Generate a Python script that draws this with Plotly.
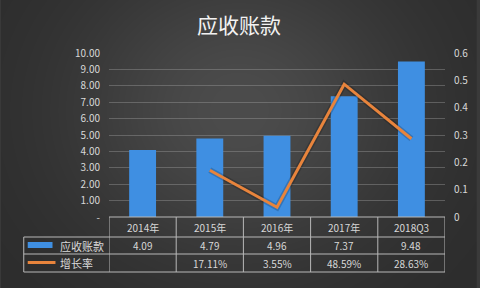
import plotly.graph_objects as go
import numpy as np
import zlib, struct, base64

# ---- data ----
categories = ["2014年", "2015年", "2016年", "2017年", "2018Q3"]
receivables = [4.09, 4.79, 4.96, 7.37, 9.48]
growth = [None, 0.1711, 0.0355, 0.4859, 0.2863]
receivables_text = ["4.09", "4.79", "4.96", "7.37", "9.48"]
growth_text = ["", "17.11%", "3.55%", "48.59%", "28.63%"]
left_tickvals = [0, 1, 2, 3, 4, 5, 6, 7, 8, 9, 10]
left_ticktext = ["-", "1.00", "2.00", "3.00", "4.00", "5.00", "6.00", "7.00", "8.00", "9.00", "10.00"]
right_tickvals = [0, 0.1, 0.2, 0.3, 0.4, 0.5, 0.6]
right_ticktext = ["0", "0.1", "0.2", "0.3", "0.4", "0.5", "0.6"]
title_text = "应收账款"
series_names = ["应收账款", "增长率"]

W, H = 480, 288
ML, MR, MT, MB = 109, 32, 53, 71
PW, PH = W - ML - MR, H - MT - MB

def px(x):
    return (x - ML) / PW

def py(y):
    return (H - MB - y) / PH

# ---- background gradient image ----
yy, xx = np.mgrid[0:H, 0:W]
dx = (xx - 240) / 240.0
dy = (yy - 110) / 210.0
v = 44 + 32 * np.exp(-(dx ** 2 + dy ** 2) * 2.0)
img = np.clip(np.stack([v, v, v], axis=-1), 0, 255).astype(np.uint8)

def png_uri(arr):
    h, w, _ = arr.shape
    raw = b"".join(b"\x00" + arr[i].tobytes() for i in range(h))
    def chunk(t, d):
        return struct.pack(">I", len(d)) + t + d + struct.pack(">I", zlib.crc32(t + d) & 0xffffffff)
    png = (b"\x89PNG\r\n\x1a\n" + chunk(b"IHDR", struct.pack(">IIBBBBB", w, h, 8, 2, 0, 0, 0))
           + chunk(b"IDAT", zlib.compress(raw, 9)) + chunk(b"IEND", b""))
    return "data:image/png;base64," + base64.b64encode(png).decode()

FONT = "Noto Sans CJK SC"
TXT = "#d8d8d8"
BLUE = "#3f8fe2"
ORANGE = "#e8843c"
LINEC = "#b8b8b8"

fig = go.Figure()
fig.add_trace(go.Bar(x=categories, y=receivables, width=0.4, marker=dict(color=BLUE, line=dict(width=0)),
                     name=series_names[0], yaxis="y"))
fig.add_trace(go.Scatter(x=categories, y=growth, mode="lines", line=dict(color="rgba(0,0,0,0.18)", width=6),
                         yaxis="y2", showlegend=False, hoverinfo="skip"))
fig.add_trace(go.Scatter(x=categories, y=growth, mode="lines", line=dict(color=ORANGE, width=3),
                         name=series_names[1], yaxis="y2"))

shapes = []
# table horizontal lines
shapes.append(dict(type="line", xref="paper", yref="paper", x0=px(109), x1=px(448), y0=py(217), y1=py(217),
                   line=dict(color=LINEC, width=1)))
for yline in [237, 254, 272]:
    shapes.append(dict(type="line", xref="paper", yref="paper", x0=px(23), x1=px(448), y0=py(yline), y1=py(yline),
                       line=dict(color=LINEC, width=1)))
shapes.append(dict(type="line", xref="paper", yref="paper", x0=px(23), x1=px(23), y0=py(237), y1=py(272),
                   line=dict(color=LINEC, width=1)))
for i in range(len(categories) + 1):
    shapes.append(dict(type="line", xref="x", yref="paper", x0=i - 0.5, x1=i - 0.5, y0=py(217), y1=py(272),
                       line=dict(color=LINEC, width=1)))
# legend keys
shapes.append(dict(type="rect", xref="paper", yref="paper", x0=px(27), x1=px(52), y0=py(248), y1=py(242),
                   fillcolor=BLUE, line=dict(width=0)))
shapes.append(dict(type="line", xref="paper", yref="paper", x0=px(27), x1=px(55), y0=py(262.5), y1=py(262.5),
                   line=dict(color=ORANGE, width=3)))

annotations = []
annotations.append(dict(text=title_text, xref="paper", yref="paper", x=px(240), y=py(24), showarrow=False,
                        xanchor="center", yanchor="middle", font=dict(family=FONT, size=21, color="#f2f2f2")))
for i, c in enumerate(categories):
    annotations.append(dict(text=c, xref="x", yref="paper", x=i, y=py(227), showarrow=False, xanchor="center",
                            yanchor="middle", font=dict(family=FONT, size=10, color=TXT)))
    annotations.append(dict(text=receivables_text[i], xref="x", yref="paper", x=i, y=py(245.5), showarrow=False,
                            xanchor="center", yanchor="middle", font=dict(family=FONT, size=10, color=TXT)))
    if growth_text[i]:
        annotations.append(dict(text=growth_text[i], xref="x", yref="paper", x=i, y=py(263), showarrow=False,
                                xanchor="center", yanchor="middle", font=dict(family=FONT, size=10, color=TXT)))
annotations.append(dict(text=series_names[0], xref="paper", yref="paper", x=px(58), y=py(245.5), showarrow=False,
                        xanchor="left", yanchor="middle", font=dict(family=FONT, size=11, color=TXT)))
annotations.append(dict(text=series_names[1], xref="paper", yref="paper", x=px(58), y=py(263), showarrow=False,
                        xanchor="left", yanchor="middle", font=dict(family=FONT, size=11, color=TXT)))

fig.update_layout(
    width=W, height=H,
    margin=dict(l=ML, r=MR, t=MT, b=MB, pad=0),
    paper_bgcolor="#3a3a3a",
    plot_bgcolor="rgba(0,0,0,0)",
    showlegend=False,
    bargap=0.6,
    images=[dict(source=png_uri(img), xref="paper", yref="paper", x=-ML / PW, y=1 + MT / PH,
                 sizex=W / PW, sizey=H / PH, sizing="stretch", layer="below", xanchor="left", yanchor="top")],
    xaxis=dict(showticklabels=False, showgrid=False, zeroline=False, showline=False, ticks="",
               range=[-0.5, len(categories) - 0.5]),
    yaxis=dict(range=[0, 10], tickvals=left_tickvals, ticktext=left_ticktext, showgrid=True,
               gridcolor="rgba(160,160,160,0.4)", gridwidth=1, zeroline=False, showline=False,
               tickfont=dict(family=FONT, size=10, color=TXT), ticks="", ticklabelstandoff=8),
    yaxis2=dict(range=[0, 0.6], tickvals=right_tickvals, ticktext=right_ticktext, overlaying="y", side="right",
                showgrid=False, zeroline=False, showline=False,
                tickfont=dict(family=FONT, size=10, color=TXT), ticks="", ticklabelstandoff=8),
    shapes=shapes,
    annotations=annotations,
)

fig.write_html("out.html")
